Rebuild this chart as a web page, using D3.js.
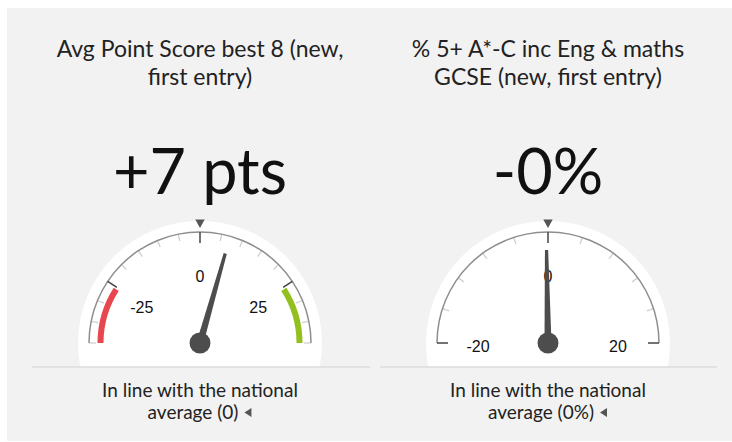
<!DOCTYPE html>
<html lang="en">
<head>
<meta charset="UTF-8" />
<title>Gauges</title>
<style>
  body { margin: 0; background: #fff; overflow: hidden; }
  svg { display: block; }
  .title { font-family: Lato, "Open Sans", sans-serif; font-size: 23px; fill: #222; }
  .value { font-family: Lato, "Open Sans", sans-serif; font-size: 63px; fill: #111; }
  .tick-label { font-family: "Liberation Sans", Arial, sans-serif; font-size: 16px; fill: #111; }
  .note { font-family: Lato, "Open Sans", sans-serif; font-size: 19px; fill: #222; }
</style>
</head>
<body>
<svg width="732" height="442"></svg>
<script src="https://d3js.org/d3.v7.min.js"></script>
<script>
// Gauge data
const titles = [
  ["Avg Point Score best 8 (new,", "first entry)"],
  ["% 5+ A*-C inc Eng & maths", "GCSE (new, first entry)"]
];
const values = [7, -0.2];
const valueLabels = ["+7 pts", "-0%"];
const domains = [[-40, 40], [-20, 20]];
const majorTicks = [[-25, 0, 25], [-20, 0, 20]];
const minorSteps = [5, 4];
const nationalAvg = [0, 0];
const lowBands = [[-40, -25.5], null];
const highBands = [[25.5, 40], null];
const notes = [
  ["In line with the national", "average (0)"],
  ["In line with the national", "average (0%)"]
];

const svg = d3.select("svg");

// grey panel
svg.append("rect")
  .attr("x", 7).attr("y", 8)
  .attr("width", 725).attr("height", 433)
  .attr("fill", "#f2f2f2");

const centersX = [200, 548];
const cy = 343;
const R = 111;

svg.append("defs").append("clipPath").attr("id", "clipBottom")
  .append("rect").attr("x", 0).attr("y", 0).attr("width", 732).attr("height", 366.5);

titles.forEach((t, i) => {
  const cx = centersX[i];
  const g = svg.append("g");

  // angle scale (radians, 0 = up)
  const angle = d3.scaleLinear().domain(domains[i]).range([-Math.PI / 2, Math.PI / 2]);
  const pt = (v, r) => [cx + r * Math.sin(angle(v)), cy - r * Math.cos(angle(v))];

  // titles
  g.selectAll("text.title").data(t).join("text")
    .attr("class", "title")
    .attr("x", cx)
    .attr("y", (d, j) => 57 + j * 28)
    .attr("text-anchor", "middle")
    .text(d => d);

  // big value
  g.append("text").attr("class", "value")
    .attr("x", cx).attr("y", 194)
    .attr("text-anchor", "middle")
    .text(valueLabels[i]);

  // white disc
  g.append("circle")
    .attr("cx", cx).attr("cy", cy).attr("r", 122)
    .attr("fill", "#fff")
    .attr("clip-path", "url(#clipBottom)");

  // bands
  const bandArc = d3.arc().innerRadius(96.5).outerRadius(102.5);
  [[lowBands[i], "#e8474d"], [highBands[i], "#93c01f"]].forEach(([b, c]) => {
    if (!b) return;
    g.append("path")
      .attr("transform", `translate(${cx},${cy})`)
      .attr("d", bandArc({ startAngle: angle(b[0]), endAngle: angle(b[1]) }))
      .attr("fill", c);
  });

  // minor ticks
  const [d0, d1] = domains[i];
  const minor = d3.range(d0, d1 + 0.001, minorSteps[i]).filter(v => !majorTicks[i].includes(v));
  g.selectAll("line.minor").data(minor).join("line")
    .attr("class", "minor")
    .attr("x1", d => pt(d, 104)[0]).attr("y1", d => pt(d, 104)[1])
    .attr("x2", d => pt(d, R)[0]).attr("y2", d => pt(d, R)[1])
    .attr("stroke", "#cfcfcf").attr("stroke-width", 1.3);

  // main arc line
  g.append("path")
    .attr("transform", `translate(${cx},${cy})`)
    .attr("d", d3.arc().innerRadius(R - 0.75).outerRadius(R + 0.75)
      ({ startAngle: angle(d0), endAngle: angle(d1) }))
    .attr("fill", "#8e8e8e");

  // major ticks
  g.selectAll("line.major").data(majorTicks[i]).join("line")
    .attr("class", "major")
    .attr("x1", d => pt(d, 100)[0]).attr("y1", d => pt(d, 100)[1])
    .attr("x2", d => pt(d, R)[0]).attr("y2", d => pt(d, R)[1])
    .attr("stroke", "#444").attr("stroke-width", 1.5);

  // tick labels
  g.selectAll("text.tick-label").data(majorTicks[i]).join("text")
    .attr("class", "tick-label")
    .attr("x", d => pt(d, 70)[0])
    .attr("y", d => pt(d, 70)[1] + 8.5)
    .attr("text-anchor", "middle")
    .text(d => d);

  // national average marker
  const m = nationalAvg[i];
  const a = angle(m);
  const tip = pt(m, 115), bl = pt(m, 123.5);
  const px = Math.cos(a) * 4.7, py = Math.sin(a) * 4.7;
  g.append("path")
    .attr("d", `M${tip[0]},${tip[1]}L${bl[0] - px},${bl[1] - py}L${bl[0] + px},${bl[1] + py}Z`)
    .attr("fill", "#555");

  // needle
  const va = angle(values[i]);
  const nt = pt(values[i], 93);
  const ux = Math.cos(va), uy = Math.sin(va);
  g.append("path")
    .attr("d", `M${cx - ux * 3.5},${cy - uy * 3.5}L${nt[0] - ux * 1.6},${nt[1] - uy * 1.6}` +
      `L${nt[0] + ux * 1.6},${nt[1] + uy * 1.6}L${cx + ux * 3.5},${cy + uy * 3.5}Z`)
    .attr("fill", "#4d4d4d");
  g.append("circle")
    .attr("cx", cx).attr("cy", cy).attr("r", 10.5)
    .attr("fill", "#4d4d4d");

  // separator
  const lineX = [[32, 370], [380, 717]][i];
  g.append("line")
    .attr("x1", lineX[0]).attr("x2", lineX[1])
    .attr("y1", 367).attr("y2", 367)
    .attr("stroke", "#dcdcdc").attr("stroke-width", 1.5);

  // note text
  const noteTexts = g.selectAll("text.note").data(notes[i]).join("text")
    .attr("class", "note")
    .attr("x", (d, j) => j === 1 ? cx - 7 : cx)
    .attr("y", (d, j) => 397 + j * 22)
    .attr("text-anchor", "middle")
    .text(d => d);
  const last = noteTexts.nodes()[1];
  const w = last.getComputedTextLength();
  const tx = cx - 7 + w / 2 + 6;
  g.append("path")
    .attr("d", `M${tx},${412.5}L${tx + 7},${408}L${tx + 7},${417}Z`)
    .attr("fill", "#555");
});
</script>
</body>
</html>
